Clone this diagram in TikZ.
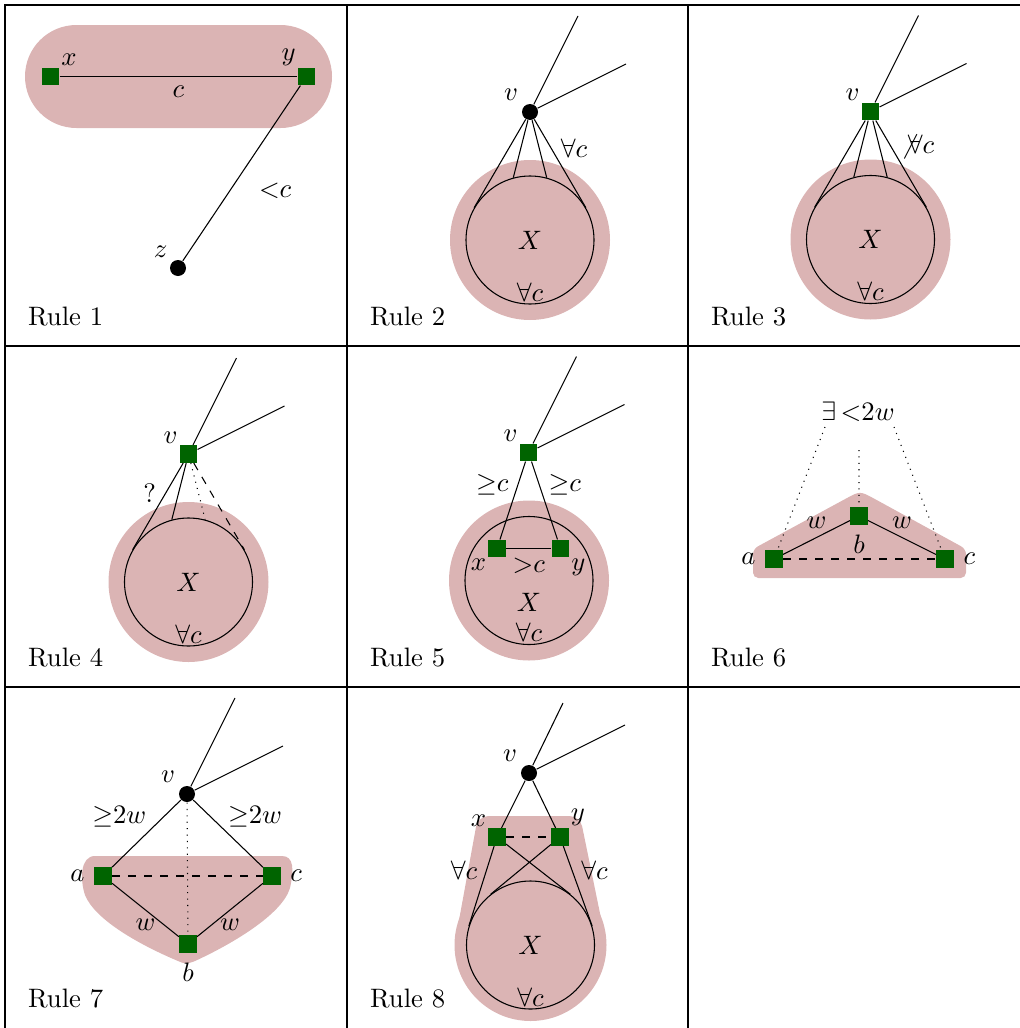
\documentclass[tikz,border=0pt]{standalone}
\usepackage{amsmath}
\usepackage{xcolor}
\usepackage{tikz}
\definecolor{blobred}{RGB}{219,180,180}
\definecolor{darkgreen}{RGB}{0,100,0}

\begin{document}
\begin{tikzpicture}[x=0.375pt,y=-0.375pt,
  blob/.style={fill=blobred},
  gsq/.style={fill=darkgreen,minimum size=6.4pt,inner sep=0pt},
  bdot/.style={circle,fill=black,minimum size=6pt,inner sep=0pt},
  ring/.style={draw,circle,minimum size=48pt,inner sep=0pt},
  lab/.style={inner sep=.5pt}]
\useasboundingbox (0,0) rectangle (1020,1028);

% table lines
\draw (5,1028) -- (5,5) -- (1020,5);
\draw (347,5) -- (347,1028) (688,5) -- (688,1028);
\draw (5,346) -- (1020,346) (5,687) -- (1020,687);
\foreach \n/\cx/\cy in {1/5/5,2/347/5,3/688/5,4/5/346,5/347/346,6/688/346,7/5/687,8/347/687}
  \node[anchor=base west,inner sep=0pt] (rule\n) at (\cx+22.5,\cy+320) {Rule \n};

% rule 1
\begin{scope}[shift={(5,5)}]
  \fill[blob,rounded corners=19.3pt] (20,20) rectangle (327,123);
  \node[gsq,label={[lab]above right:$x$}] (x) at (45.5,71.5) {};
  \node[gsq,label={[lab]above left:$y$}] (y) at (301.5,71.5) {};
  \node[bdot,label={[lab,inner sep=1.5pt]above left:$z$}] (z) at (173,263) {};
  \draw (x) -- node[below] (lc) {$c$} (y);
  \draw (y) -- node[below right,xshift=3pt] (lz) {${<}c$} (z);
\end{scope}

% rule 2
\begin{scope}[shift={(347,5)}]
  \fill[blob] (183,235) circle (80);
  \node[ring] (X) at (183,235) {$X$};
  \node[anchor=south,inner sep=1pt] (all) at (X.south) {$\forall c$};
  \node[bdot,label={[lab,inner sep=2pt]above left:$v$}] (v) at (183,107) {};
  \draw (v) -- +(48,-96) (v) -- +(96,-48);
  \draw (v) -- (X.150) (v) -- (X.105) (v) -- (X.75);
  \draw (v) -- node[pos=.33,right] (lc) {$\forall c$} (X.30);
\end{scope}

% rule 3
\begin{scope}[shift={(688,5)}]
  \fill[blob] (182.5,234.5) circle (80);
  \node[ring] (X) at (182.5,234.5) {$X$};
  \node[anchor=south,inner sep=1pt] (all) at (X.south) {$\forall c$};
  \node[gsq,label={[lab]above left:$v$}] (v) at (182.5,106.5) {};
  \draw (v) -- +(48,-96) (v) -- +(96,-48);
  \draw (v) -- (X.150) (v) -- (X.105) (v) -- (X.75);
  \draw (v) -- node[pos=.3,right] (lc) {$\not\forall c$} (X.30);
\end{scope}

% rule 4
\begin{scope}[shift={(5,346)}]
  \fill[blob] (183.5,236) circle (80);
  \node[ring] (X) at (183.5,236) {$X$};
  \node[anchor=south,inner sep=1pt] (all) at (X.south) {$\forall c$};
  \node[gsq,label={[lab]above left:$v$}] (v) at (183.5,108) {};
  \draw (v) -- +(48,-96) (v) -- +(96,-48);
  \draw (v) -- node[pos=.35,left] (q) {?} (X.150);
  \draw (v) -- (X.105);
  \draw[dotted] (v) -- (X.75);
  \draw[dashed] (v) -- (X.30);
\end{scope}

% rule 5
\begin{scope}[shift={(347,346)}]
  \fill[blob] (182,234.5) circle (80);
  \node[ring] (X) at (182,234.5) {};
  \node (Xl) at (182,256) {$X$};
  \node[anchor=south,inner sep=1pt] (all) at (X.south) {$\forall c$};
  \node[gsq,label={[lab]above left:$v$}] (v) at (181.5,106.5) {};
  \node[gsq,label={[lab]below left:$x$}] (x) at (150,202.5) {};
  \node[gsq,label={[lab]below right:$y$}] (y) at (213.5,202.5) {};
  \draw (v) -- +(48,-96) (v) -- +(96,-48);
  \draw (v) -- node[pos=.3,left] (l1) {${\geq}c$} (x);
  \draw (v) -- node[pos=.3,right] (l2) {${\geq}c$} (y);
  \draw (x) -- node[below] (l3) {${>}c$} (y);
\end{scope}

% rule 6
\begin{scope}[shift={(688,346)}]
  \fill[blob,rounded corners=2pt] (65,232) -- (65,203) -- (153.5,155) .. controls (172,145) .. (190.5,155) -- (278,203) -- (278,232) -- cycle;
  \node (lbl) at (170,66) {$\exists\,{<}2w$};
  \coordinate (p1) at (137,81);
  \coordinate (p2) at (171,104);
  \coordinate (p3) at (206,81);
  \node[gsq,label=left:$a$] (a) at (86,213) {};
  \node[gsq,label=below:$b$] (b) at (171,170) {};
  \node[gsq,label=right:$c$] (c) at (257,213) {};
  \draw (a) -- node[above] (w1) {$w$} (b) -- node[above] (w2) {$w$} (c);
  \draw[dashed] (a) -- (c);
  \draw[dotted] (p1) -- (a) (p2) -- (b) (p3) -- (c);
\end{scope}

% rule 7
\begin{scope}[shift={(5,687)}]
  \fill[blob] (90,169) -- (277,169) .. controls (289,169) and (289,183) .. (285,201)
    .. controls (277,228) and (225,258) .. (190,274) .. controls (183,277) and (179,277) .. (173,274)
    .. controls (135,258) and (90,233) .. (80,208) .. controls (75,193) and (75,169) .. (90,169) -- cycle;
  \node[bdot,label={[lab,inner sep=2pt]above left:$v$}] (v) at (182,107) {};
  \node[gsq,label=left:$a$] (a) at (98,189) {};
  \node[gsq,label=right:$c$] (c) at (267,189) {};
  \node[gsq,label=below:$b$] (b) at (183,257) {};
  \draw (v) -- +(48,-96) (v) -- +(96,-48);
  \draw (v) -- node[pos=.25,left,xshift=-3pt] (l1) {${\geq}2w$} (a);
  \draw (v) -- node[pos=.25,right,xshift=3pt] (l2) {${\geq}2w$} (c);
  \draw (a) -- node[below] (w1) {$w$} (b) -- node[below] (w2) {$w$} (c);
  \draw[dashed] (a) -- (c);
  \draw[dotted] (v) -- (b);
\end{scope}

% rule 8
\begin{scope}[shift={(347,687)}]
  \fill[blob] (183.5,258) circle (76);
  \fill[blob,rounded corners=4pt] (131,129) -- (233,129) -- (259.5,258) -- (107.5,258) -- cycle;
  \node[ring] (X) at (183.5,258) {$X$};
  \node[anchor=south,inner sep=1pt] (all) at (X.south) {$\forall c$};
  \node[bdot,label={[lab,inner sep=2pt]above left:$v$}] (v) at (182,86) {};
  \node[gsq,label={[lab]above left:$x$}] (x) at (150,150) {};
  \node[gsq,label={[lab]above right:$y$}] (y) at (213,150) {};
  \draw (v) -- +(34,-70) (v) -- +(96,-48);
  \draw (v) -- (x) (v) -- (y);
  \draw[dashed] (x) -- (y);
  \draw (x) -- node[pos=.3,left] (l1) {$\forall c$} (X.163);
  \draw (x) -- (X.52) (y) -- (X.128);
  \draw (y) -- node[pos=.3,right] (l2) {$\forall c$} (X.17);
\end{scope}
\end{tikzpicture}
\end{document}
